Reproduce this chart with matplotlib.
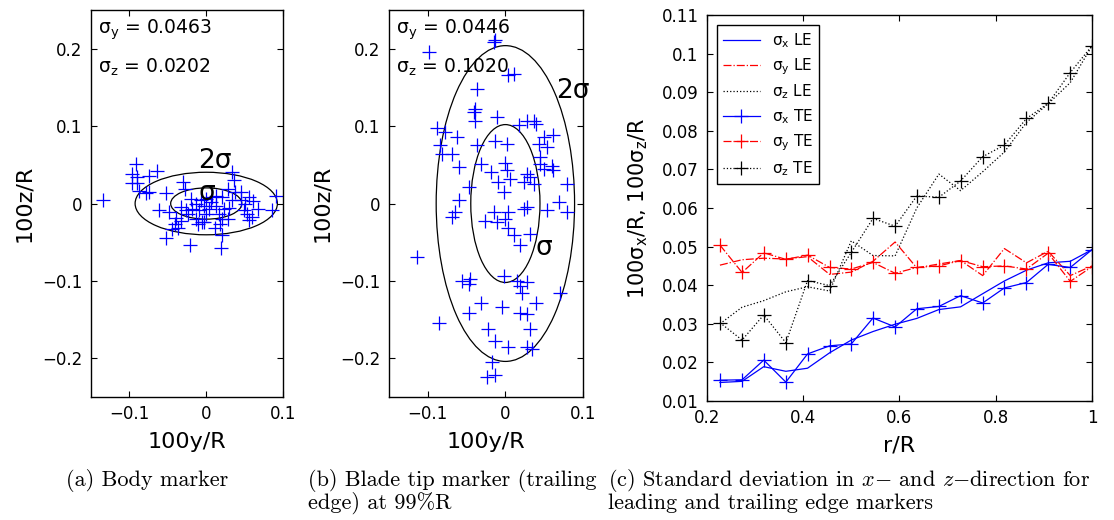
import matplotlib
matplotlib.use('Agg')
import matplotlib.pyplot as plt
from matplotlib.patches import Ellipse
from matplotlib.ticker import FuncFormatter

plt.rcParams['font.family'] = ['DejaVu Sans']

# (a) body marker, 100y/R and 100z/R
body_y = [-0.135, -0.092, -0.097, -0.090, -0.097, -0.090, -0.074, -0.064, -0.087, -0.079,
          -0.074, -0.053, -0.030, -0.028, -0.061, -0.048, -0.039, -0.041, -0.044, -0.053,
          -0.021, -0.033, -0.026, -0.020, -0.013, -0.010, -0.007, -0.003, 0.000, 0.003,
          0.006, 0.008, 0.013, 0.000, -0.013, -0.005, 0.017, 0.021, 0.018, 0.020,
          0.019, 0.034, 0.036, 0.028, 0.038, 0.045, 0.034, 0.045, 0.051, 0.056,
          0.061, 0.030, 0.049, 0.053, 0.060, 0.056, 0.068, 0.086, 0.091, 0.028,
          0.023, 0.013, 0.020, -0.018, -0.024, -0.033, -0.037, 0.012, -0.011, -0.003]
body_z = [0.005, 0.051, 0.038, 0.034, 0.026, 0.026, 0.036, 0.042, 0.016, 0.013,
          0.015, 0.013, 0.028, 0.019, -0.009, -0.011, -0.019, -0.027, -0.033, -0.044,
          -0.054, -0.005, -0.008, 0.006, -0.001, -0.009, 0.005, -0.003, 0.006, -0.007,
          0.002, 0.008, -0.003, -0.013, -0.020, -0.024, -0.013, -0.020, -0.027, -0.041,
          -0.057, 0.041, 0.030, 0.019, 0.015, 0.015, 0.004, 0.004, 0.000, 0.008,
          0.003, -0.006, -0.009, -0.013, -0.017, -0.021, -0.007, -0.008, 0.010, -0.020,
          -0.007, 0.010, 0.008, -0.007, -0.013, -0.022, -0.031, -0.031, -0.026, -0.024]
body_sig = (0.0463, 0.0202)

# (b) blade tip marker, trailing edge at 99%R
tip_y = [-0.015, -0.013, -0.099, 0.004, 0.011, -0.037, -0.039, -0.041, -0.039, -0.011,
         0.028, 0.037, 0.039, 0.017, -0.088, -0.078, -0.062, -0.084, -0.082, -0.069,
         -0.037, -0.013, 0.002, 0.050, 0.062, 0.043, 0.054, 0.045, 0.045, 0.060,
         0.050, 0.062, -0.032, -0.060, -0.019, 0.000, 0.002, -0.009, 0.006, 0.028,
         0.032, 0.024, 0.037, -0.002, -0.047, 0.080, -0.060, -0.065, -0.069, 0.028,
         0.024, 0.054, 0.069, 0.080, -0.015, -0.026, -0.011, 0.004, 0.000, 0.004,
         0.011, 0.019, 0.032, -0.114, -0.056, -0.045, -0.047, -0.002, 0.015, 0.019,
         0.028, 0.022, 0.071, -0.032, -0.047, -0.004, 0.019, 0.028, 0.039, -0.086,
         -0.022, -0.013, 0.004, 0.032, 0.028, 0.034, -0.017, -0.024, -0.014]
tip_z = [0.209, 0.211, 0.196, 0.166, 0.168, 0.148, 0.122, 0.118, 0.107, 0.112,
         0.107, 0.107, 0.103, 0.101, 0.097, 0.092, 0.086, 0.075, 0.064, 0.064,
         0.075, 0.081, 0.077, 0.086, 0.088, 0.077, 0.073, 0.060, 0.051, 0.049,
         0.045, 0.043, 0.051, 0.047, 0.041, 0.053, 0.043, 0.028, 0.032, 0.038,
         0.034, 0.028, 0.025, 0.015, 0.021, 0.025, 0.004, -0.011, -0.018, -0.005,
         -0.007, -0.009, 0.002, -0.011, -0.011, -0.022, -0.024, -0.011, -0.020, -0.031,
         -0.041, -0.054, -0.039, -0.069, -0.100, -0.097, -0.104, -0.093, -0.100, -0.106,
         -0.102, -0.115, -0.115, -0.128, -0.141, -0.134, -0.141, -0.143, -0.128, -0.154,
         -0.162, -0.177, -0.186, -0.162, -0.186, -0.188, -0.205, -0.224, -0.222]
tip_sig = (0.0446, 0.1020)

# (c) standard deviation along the blade
r_R = [0.227, 0.273, 0.318, 0.364, 0.409, 0.455, 0.500, 0.545, 0.591,
       0.636, 0.682, 0.727, 0.773, 0.818, 0.864, 0.909, 0.955, 1.000]
sx_le = [0.0148, 0.0151, 0.0189, 0.0177, 0.0185, 0.0225, 0.0258, 0.0280, 0.0299,
         0.0314, 0.0337, 0.0344, 0.0378, 0.0411, 0.0439, 0.0458, 0.0462, 0.0492]
sy_le = [0.0452, 0.0466, 0.0470, 0.0468, 0.0474, 0.0428, 0.0434, 0.0462, 0.0512,
         0.0445, 0.0455, 0.0464, 0.0425, 0.0495, 0.0458, 0.0488, 0.0425, 0.0450]
sz_le = [0.0300, 0.0343, 0.0360, 0.0383, 0.0396, 0.0385, 0.0515, 0.0477, 0.0476,
         0.0600, 0.0688, 0.0645, 0.0694, 0.0745, 0.0822, 0.0870, 0.0925, 0.1020]
sx_te = [0.0154, 0.0155, 0.0206, 0.0149, 0.0222, 0.0243, 0.0248, 0.0315, 0.0292,
         0.0339, 0.0345, 0.0373, 0.0354, 0.0393, 0.0407, 0.0454, 0.0446, 0.0492]
sy_te = [0.0504, 0.0433, 0.0484, 0.0467, 0.0478, 0.0446, 0.0442, 0.0459, 0.0431,
         0.0446, 0.0450, 0.0464, 0.0448, 0.0450, 0.0442, 0.0483, 0.0410, 0.0448]
sz_te = [0.0303, 0.0258, 0.0323, 0.0251, 0.0412, 0.0399, 0.0485, 0.0573, 0.0553,
         0.0631, 0.0628, 0.0670, 0.0733, 0.0763, 0.0832, 0.0871, 0.0951, 0.1020]

fmt = FuncFormatter(lambda v, p: ('%g' % round(v, 4)).replace('-', '\u2212'))


def style(ax):
    ax.tick_params(direction='in', top=True, right=True, length=4, width=0.8,
                   labelsize=12, pad=6)
    for s in ax.spines.values():
        s.set_linewidth(1.0)
    ax.xaxis.set_major_formatter(fmt)
    ax.yaxis.set_major_formatter(fmt)


def scatter_panel(ax, y, z, sig, s1_pos, s2_pos):
    ax.plot(y, z, '+', color='blue', ms=10, mew=0.9)
    for k in (1, 2):
        ax.add_patch(Ellipse((0, 0), 2 * k * sig[0], 2 * k * sig[1], fill=False,
                             ec='black', lw=0.9))
    ax.text(*s1_pos, '\u03c3', fontsize=19)
    ax.text(*s2_pos, '2\u03c3', fontsize=19, clip_on=False)
    ax.text(-0.141, 0.220, r'$\mathregular{\sigma_y}$ = %.4f' % sig[0], fontsize=13.5)
    ax.text(-0.141, 0.169, r'$\mathregular{\sigma_z}$ = %.4f' % sig[1], fontsize=13.5)
    ax.set_xlim(-0.15, 0.1)
    ax.set_ylim(-0.25, 0.25)
    ax.set_xticks([-0.1, 0, 0.1])
    ax.set_yticks([-0.2, -0.1, 0, 0.1, 0.2])
    ax.set_xlabel('100y/R', fontsize=16, labelpad=6)
    ax.set_ylabel('100z/R', fontsize=16, labelpad=6)
    style(ax)


fig = plt.figure(figsize=(11.14, 5.2), dpi=100)

ax1 = fig.add_axes([0.0817, 0.2365, 0.1724, 0.7442])
scatter_panel(ax1, body_y, body_z, body_sig, (-0.010, 0.004), (-0.010, 0.046))

ax2 = fig.add_axes([0.3492, 0.2365, 0.1741, 0.7442])
scatter_panel(ax2, tip_y, tip_z, tip_sig, (0.039, -0.067), (0.065, 0.136))

ax3 = fig.add_axes([0.6346, 0.2288, 0.3456, 0.7423])
ax3.plot(r_R, sx_le, '-', color='blue', lw=0.9, label=r'$\mathregular{\sigma_x}$ LE')
ax3.plot(r_R, sy_le, '-.', color='red', lw=0.9, label=r'$\mathregular{\sigma_y}$ LE')
ax3.plot(r_R, sz_le, ':', color='black', lw=0.9, label=r'$\mathregular{\sigma_z}$ LE')
ax3.plot(r_R, sx_te, '-+', color='blue', lw=0.9, ms=10, mew=0.9,
         label=r'$\mathregular{\sigma_x}$ TE')
ax3.plot(r_R, sy_te, '-.+', color='red', lw=0.9, ms=10, mew=0.9,
         label=r'$\mathregular{\sigma_y}$ TE')
ax3.plot(r_R, sz_te, ':+', color='black', lw=0.9, ms=10, mew=0.9,
         label=r'$\mathregular{\sigma_z}$ TE')
ax3.set_xlim(0.2, 1)
ax3.set_ylim(0.01, 0.11)
ax3.set_xticks([0.2, 0.4, 0.6, 0.8, 1.0])
ax3.set_yticks([0.01, 0.02, 0.03, 0.04, 0.05, 0.06, 0.07, 0.08, 0.09, 0.1, 0.11])
ax3.set_xlabel('r/R', fontsize=16, labelpad=6)
ax3.set_ylabel(r'100$\mathregular{\sigma_x}$/R, 100$\mathregular{\sigma_z}$/R',
               fontsize=15, labelpad=8)
style(ax3)
leg = ax3.legend(loc='upper left', bbox_to_anchor=(0.026, 0.974), borderaxespad=0,
                 fontsize=11, fancybox=False, framealpha=1, edgecolor='black',
                 handlelength=2.4, labelspacing=0.4, numpoints=1)
leg.get_frame().set_linewidth(1.0)

cap = dict(family='cmr10', math_fontfamily='cm', fontsize=16, va='baseline')
fig.text(66 / 1114, 1 - 486 / 520, '(a) Body marker', **cap)
fig.text(308 / 1114, 1 - 486 / 520, '(b) Blade tip marker (trailing', **cap)
fig.text(308 / 1114, 1 - 509 / 520, 'edge) at 99%R', **cap)
fig.text(608 / 1114, 1 - 486 / 520,
         r'(c) Standard deviation in $x{-}$ and $z{-}$direction for', **cap)
fig.text(608 / 1114, 1 - 509 / 520, 'leading and trailing edge markers', **cap)

fig.savefig('out.png', dpi=100)
